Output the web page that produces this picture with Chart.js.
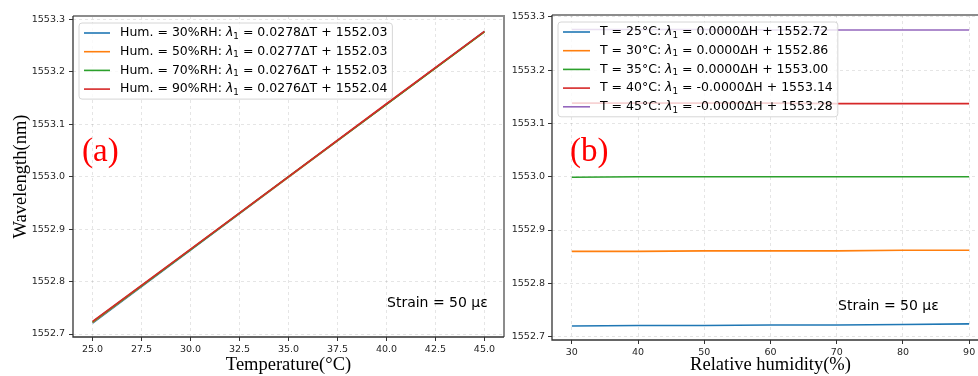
<!DOCTYPE html>
<html>
<head>
<meta charset="utf-8">
<script src="https://cdn.jsdelivr.net/npm/chart.js@4.4.0/dist/chart.umd.min.js"></script>
<style>
    html, body { margin: 0; padding: 0; background: #fff; overflow: hidden; width: 978px; height: 376px; }
    canvas { position: absolute; top: 0; }
</style>
</head>
<body>
<canvas id="chartA" width="506" height="376" style="left:0"></canvas>
<canvas id="chartB" width="490" height="376" style="left:506px"></canvas>
<script>
// Panel (a): wavelength vs temperature at several humidities
const temperatures = [25, 30, 35, 40, 45];
const hum30 = [1552.721, 1552.860, 1552.999, 1553.138, 1553.277];
const hum50 = [1552.722, 1552.861, 1552.999, 1553.138, 1553.276];
const hum70 = [1552.723, 1552.861, 1553.000, 1553.138, 1553.276];
const hum90 = [1552.724, 1552.862, 1553.000, 1553.139, 1553.277];
const humLabels = [
    'Hum. = 30%RH: λ₁ = 0.0278ΔT + 1552.03',
    'Hum. = 50%RH: λ₁ = 0.0277ΔT + 1552.03',
    'Hum. = 70%RH: λ₁ = 0.0276ΔT + 1552.03',
    'Hum. = 90%RH: λ₁ = 0.0276ΔT + 1552.04'
];
const tempTicks = [25, 27.5, 30, 32.5, 35, 37.5, 40, 42.5, 45];

// Panel (b): wavelength vs relative humidity at several temperatures
const humidities = [30, 40, 50, 60, 70, 80, 90];
const t25 = [1552.720, 1552.721, 1552.721, 1552.722, 1552.722, 1552.723, 1552.724];
const t30 = [1552.860, 1552.860, 1552.861, 1552.861, 1552.861, 1552.862, 1552.862];
const t35 = [1552.999, 1553.000, 1553.000, 1553.000, 1553.000, 1553.000, 1553.000];
const t40 = [1553.138, 1553.138, 1553.138, 1553.138, 1553.137, 1553.137, 1553.137];
const t45 = [1553.276, 1553.276, 1553.276, 1553.275, 1553.275, 1553.275, 1553.275];
const tempLabels = [
    'T = 25°C: λ₁ = 0.0000ΔH + 1552.72',
    'T = 30°C: λ₁ = 0.0000ΔH + 1552.86',
    'T = 35°C: λ₁ = 0.0000ΔH + 1553.00',
    'T = 40°C: λ₁ = -0.0000ΔH + 1553.14',
    'T = 45°C: λ₁ = -0.0000ΔH + 1553.28'
];
const humidityTicks = [30, 40, 50, 60, 70, 80, 90];

const wavelengthTicks = [1552.7, 1552.8, 1552.9, 1553.0, 1553.1, 1553.2, 1553.3];
const palette = ['#1f77b4', '#ff7f0e', '#2ca02c', '#d62728', '#9467bd'];

const SANS = '"DejaVu Sans"';
const SERIF = '"Liberation Serif"';

// draw "… λ₁ …" with an italic lambda and a lowered subscript
function drawMathLabel(ctx, text, x, y, size) {
    const parts = text.split('λ₁');
    ctx.textBaseline = 'middle';
    ctx.textAlign = 'left';
    ctx.fillStyle = '#000';
    ctx.font = size + 'px ' + SANS;
    ctx.fillText(parts[0], x, y);
    x += ctx.measureText(parts[0]).width;
    if (parts.length < 2) return x;
    ctx.font = 'italic ' + size + 'px ' + SANS;
    ctx.fillText('λ', x, y);
    x += ctx.measureText('λ').width;
    ctx.font = (size * 0.7) + 'px ' + SANS;
    ctx.fillText('1', x, y + size * 0.28);
    x += ctx.measureText('1').width;
    ctx.font = size + 'px ' + SANS;
    ctx.fillText(parts[1], x, y);
    return x + ctx.measureText(parts[1]).width;
}

function measureMathLabel(ctx, text, size) {
    const parts = text.split('λ₁');
    ctx.font = size + 'px ' + SANS;
    let w = ctx.measureText(parts[0]).width + ctx.measureText(parts[1] || '').width;
    ctx.font = 'italic ' + size + 'px ' + SANS;
    w += ctx.measureText('λ').width;
    ctx.font = (size * 0.7) + 'px ' + SANS;
    w += ctx.measureText('1').width;
    return w;
}

function roundRectPath(ctx, x, y, w, h, r) {
    ctx.beginPath();
    ctx.moveTo(x + r, y);
    ctx.lineTo(x + w - r, y);
    ctx.quadraticCurveTo(x + w, y, x + w, y + r);
    ctx.lineTo(x + w, y + h - r);
    ctx.quadraticCurveTo(x + w, y + h, x + w - r, y + h);
    ctx.lineTo(x + r, y + h);
    ctx.quadraticCurveTo(x, y + h, x, y + h - r);
    ctx.lineTo(x, y + r);
    ctx.quadraticCurveTo(x, y, x + r, y);
    ctx.closePath();
}

// spines, panel letter, annotation and the legend box
const panelDecor = {
    id: 'panelDecor',
    afterDraw(chart, args, o) {
        const ctx = chart.ctx;
        const a = chart.chartArea;
        ctx.save();

        // spines
        ctx.strokeStyle = '#8c8c8c';
        ctx.lineWidth = 2;
        ctx.beginPath();
        ctx.moveTo(a.left, a.top);
        ctx.lineTo(a.right, a.top);
        ctx.lineTo(a.right, a.bottom);
        ctx.stroke();
        ctx.strokeStyle = '#333';
        ctx.lineWidth = 1.3;
        ctx.beginPath();
        ctx.moveTo(a.left, a.top);
        ctx.lineTo(a.left, a.bottom);
        ctx.lineTo(a.right, a.bottom);
        ctx.stroke();

        // panel letter
        ctx.fillStyle = '#ff0000';
        ctx.font = '33px ' + SERIF;
        ctx.textBaseline = 'alphabetic';
        ctx.textAlign = 'left';
        ctx.fillText(o.letter, o.letterX, o.letterY);

        // strain annotation
        ctx.fillStyle = '#000';
        ctx.font = '14px ' + SANS;
        ctx.textBaseline = 'middle';
        ctx.fillText('Strain = 50 με', o.noteX, o.noteY);

        // legend
        const L = o.legend;
        const sets = chart.data.datasets;
        let maxW = 0;
        sets.forEach(ds => { maxW = Math.max(maxW, measureMathLabel(ctx, ds.label, L.size)); });
        const boxW = L.tx + maxW + 5 - L.x;
        const boxH = (sets.length - 1) * L.gap + 20;
        roundRectPath(ctx, L.x, L.y0 - 10, boxW, boxH, 3);
        ctx.fillStyle = 'rgba(255,255,255,0.8)';
        ctx.fill();
        ctx.strokeStyle = '#d6d6d6';
        ctx.lineWidth = 1;
        ctx.stroke();
        sets.forEach((ds, i) => {
            const y = L.y0 + i * L.gap;
            ctx.strokeStyle = ds.borderColor;
            ctx.lineWidth = 1.6;
            ctx.beginPath();
            ctx.moveTo(L.hx0, y);
            ctx.lineTo(L.hx1, y);
            ctx.stroke();
            drawMathLabel(ctx, ds.label, L.tx, y, L.size);
        });
        ctx.restore();
    }
};

// later series are drawn on top, as in the original figure
function makeDatasets(xs, series, labels) {
    return series.map((vals, i) => ({
        label: labels[i],
        data: xs.map((x, j) => ({ x: x, y: vals[j] })),
        borderColor: palette[i],
        backgroundColor: palette[i],
        borderWidth: 1.6,
        pointRadius: 0,
        fill: false,
        tension: 0,
        order: series.length - i
    }));
}

function gridOpts() {
    return {
        color: 'rgba(0,0,0,0.13)',
        lineWidth: 0.8,
        tickLength: 4,
        tickColor: '#333',
        tickWidth: 1,
        tickBorderDash: []
    };
}

function buildChart(canvasId, cfg) {
    return new Chart(document.getElementById(canvasId), {
        type: 'line',
        data: { datasets: cfg.datasets },
        options: {
            responsive: false,
            animation: false,
            events: [],
            layout: { padding: cfg.padding },
            plugins: {
                legend: { display: false },
                tooltip: { enabled: false },
                panelDecor: cfg.decor
            },
            scales: {
                x: {
                    type: 'linear',
                    min: cfg.xMin,
                    max: cfg.xMax,
                    afterBuildTicks: s => { s.ticks = cfg.xTicks.map(v => ({ value: v })); },
                    afterFit: s => { s.height = cfg.xHeight; },
                    ticks: {
                        font: { family: SANS, size: 9.5 },
                        color: '#262626',
                        padding: 3,
                        maxRotation: 0,
                        autoSkip: false,
                        callback: cfg.xFormat
                    },
                    grid: gridOpts(),
                    border: { display: false, dash: [3, 3] },
                    title: {
                        display: true,
                        text: cfg.xTitle,
                        color: '#000',
                        font: { family: SERIF, size: 18.5, lineHeight: 1.2 },
                        padding: { top: 0, bottom: 0 }
                    }
                },
                y: {
                    type: 'linear',
                    min: cfg.yMin,
                    max: cfg.yMax,
                    afterBuildTicks: s => { s.ticks = wavelengthTicks.map(v => ({ value: v })); },
                    afterFit: s => { s.width = cfg.yWidth; },
                    ticks: {
                        font: { family: SANS, size: 9.5 },
                        color: '#262626',
                        padding: cfg.yPad,
                        autoSkip: false,
                        callback: v => v.toFixed(1)
                    },
                    grid: gridOpts(),
                    border: { display: false, dash: [3, 3] },
                    title: {
                        display: !!cfg.yTitle,
                        text: cfg.yTitle || '',
                        color: '#000',
                        font: { family: SERIF, size: 18.5, lineHeight: 1.2 },
                        padding: { top: 10, bottom: 0 }
                    }
                }
            }
        },
        plugins: [panelDecor]
    });
}

buildChart('chartA', {
    datasets: makeDatasets(temperatures, [hum30, hum50, hum70, hum90], humLabels),
    padding: { left: 0, top: 16, right: 2, bottom: 0 },
    xMin: 24, xMax: 46, xTicks: tempTicks, xHeight: 39,
    xFormat: v => v.toFixed(1),
    xTitle: 'Temperature(°C)',
    yMin: 1552.6943, yMax: 1553.3063, yWidth: 73, yPad: 4,
    yTitle: 'Wavelength(nm)',
    decor: {
        letter: '(a)', letterX: 82, letterY: 161,
        noteX: 387, noteY: 303,
        legend: { x: 79, y0: 33, gap: 18.7, hx0: 84, hx1: 110, tx: 120, size: 12.5 }
    }
});

buildChart('chartB', {
    datasets: makeDatasets(humidities, [t25, t30, t35, t40, t45], tempLabels),
    padding: { left: 0, top: 15, right: 7, bottom: 0 },
    xMin: 27, xMax: 93, xTicks: humidityTicks, xHeight: 36,
    xFormat: v => String(v),
    xTitle: 'Relative humidity(%)',
    yMin: 1552.6938, yMax: 1553.3032, yWidth: 46, yPad: 3,
    yTitle: null,
    decor: {
        letter: '(b)', letterX: 64, letterY: 161,
        noteX: 332, noteY: 306,
        legend: { x: 52, y0: 32, gap: 18.7, hx0: 57, hx1: 84, tx: 94, size: 12.5 }
    }
});
</script>
</body>
</html>
